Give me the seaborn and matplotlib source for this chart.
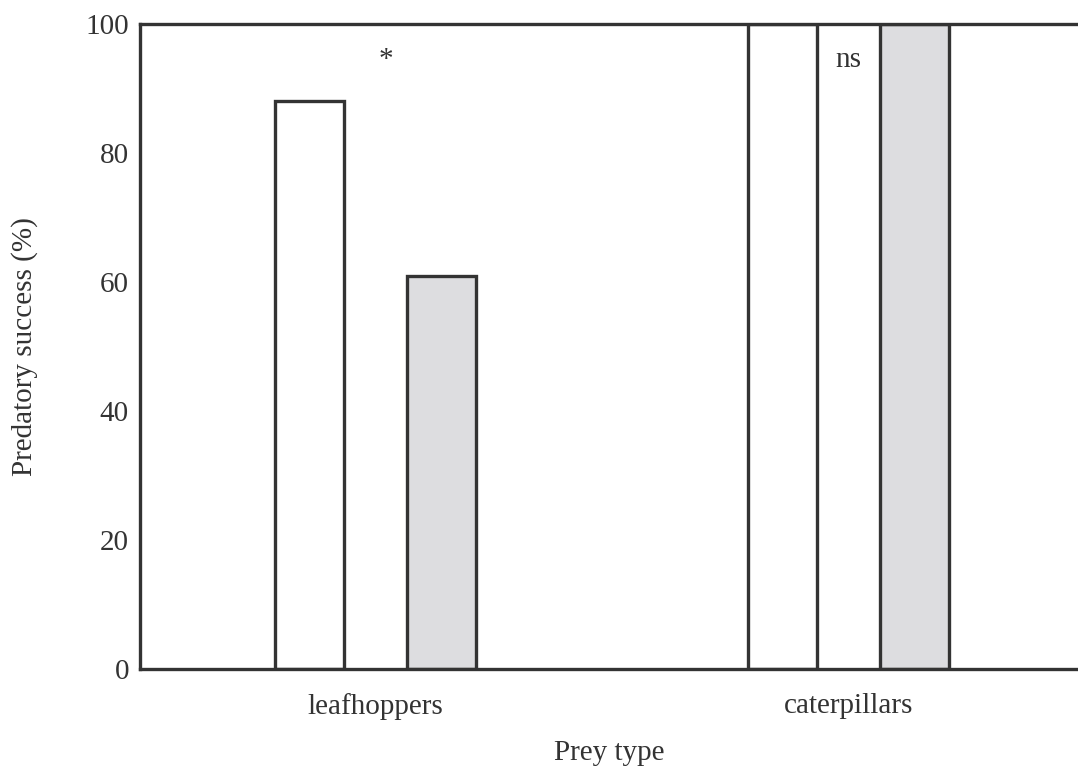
import matplotlib
matplotlib.use("Agg")
import matplotlib.pyplot as plt
import pandas as pd
import seaborn as sns

# data
prey_types = ["leafhoppers", "caterpillars"]
groups = ["A", "B"]
success_a = [88, 100]
success_b = [61, 100]
annotations = ["*", "ns"]
annot_pos = [(0.022, 94.4), (0.998, 94.4)]

sns.set_theme(style="white")
plt.rcParams["font.family"] = ["Liberation Serif", "DejaVu Serif"]

df = pd.DataFrame({
    "prey": prey_types * 2,
    "group": [groups[0]] * 2 + [groups[1]] * 2,
    "success": success_a + success_b,
})

dark = "#333333"
fig = plt.figure(figsize=(10.78, 7.69), dpi=100)
ax = fig.add_axes([0.1299, 0.130, 0.8701, 0.8388])

sns.barplot(
    data=df, x="prey", y="success", hue="group", order=prey_types,
    hue_order=groups, palette=["white", "#dcdde0"], width=0.557, gap=0.477,
    edgecolor=dark, linewidth=2.4, legend=False, ax=ax, errorbar=None,
)

for txt, (x, y) in zip(annotations, annot_pos):
    ax.text(x, y, txt, ha="center", va="center", fontsize=21, color=dark)

ax.set_xlim(-0.497, 1.484)
ax.set_ylim(0, 100)
ax.set_yticks([0, 20, 40, 60, 80, 100])
ax.tick_params(axis="both", length=0, labelsize=21, colors=dark, pad=8)
ax.tick_params(axis="x", pad=17)
ax.set_xlabel("Prey type", fontsize=21, color=dark, labelpad=15)
ax.set_ylabel("Predatory success (%)", fontsize=21, color=dark, labelpad=34)

for side in ["left", "top", "bottom"]:
    ax.spines[side].set_color(dark)
    ax.spines[side].set_linewidth(2.4)
ax.spines["right"].set_visible(False)

fig.savefig("out.png", dpi=100)
